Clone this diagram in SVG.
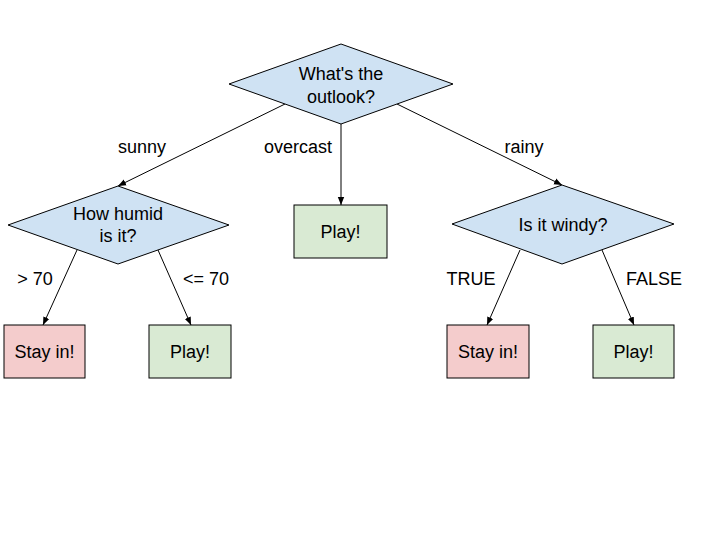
<svg xmlns="http://www.w3.org/2000/svg" width="720" height="540" viewBox="0 0 720 540">
<style>
text{font-family:"Liberation Sans",Arial,sans-serif;font-size:18px;fill:#000;text-anchor:middle}
.d{fill:#cfe2f3;stroke:#000;stroke-width:1}
.r{fill:#f4cccc;stroke:#000;stroke-width:1}
.g{fill:#d9ead3;stroke:#000;stroke-width:1}
.c line{stroke:#000;stroke-width:1;marker-end:url(#ah)}
</style>
<defs>
<marker id="ah" viewBox="0 0 10 10" refX="10" refY="5" markerWidth="8" markerHeight="8" markerUnits="userSpaceOnUse" orient="auto">
<path d="M0,1 L10,5 L0,9 Z" fill="#000"/>
</marker>
</defs>
<rect width="720" height="540" fill="#fff"/>
<g class="c" id="connectors">
<line x1="285" y1="104" x2="118" y2="186"/>
<line x1="341" y1="124" x2="341" y2="205"/>
<line x1="397" y1="104" x2="562" y2="185"/>
<line x1="77" y1="250" x2="43" y2="325"/>
<line x1="158" y1="250" x2="191" y2="325"/>
<line x1="520" y1="250" x2="487" y2="325"/>
<line x1="602" y1="250" x2="634" y2="325"/>
<text x="142" y="153">sunny</text>
<text x="298" y="153">overcast</text>
<text x="524" y="153">rainy</text>
<text x="35" y="285">&gt; 70</text>
<text x="206" y="285">&lt;= 70</text>
<text x="471" y="285">TRUE</text>
<text x="654" y="285">FALSE</text>
</g>
<g id="outlook">
<polygon class="d" points="341,44 453,84 341,124 229,84"/>
<text x="341" y="80">What's the</text>
<text x="341" y="103">outlook?</text>
</g>
<g id="humid">
<polygon class="d" points="118,186 229,225 118,264 8,225"/>
<text x="118" y="220">How humid</text>
<text x="118" y="242">is it?</text>
</g>
<g id="overcast-play">
<rect class="g" x="294" y="205" width="93" height="53"/>
<text x="340.5" y="238">Play!</text>
</g>
<g id="windy">
<polygon class="d" points="562,185 674,224 562,264 452,224"/>
<text x="563" y="231">Is it windy?</text>
</g>
<g id="humid-stay">
<rect class="r" x="4" y="325" width="81" height="53"/>
<text x="44.5" y="358">Stay in!</text>
</g>
<g id="humid-play">
<rect class="g" x="149" y="325" width="82" height="53"/>
<text x="190" y="358">Play!</text>
</g>
<g id="windy-stay">
<rect class="r" x="447" y="325" width="82" height="53"/>
<text x="488" y="358">Stay in!</text>
</g>
<g id="windy-play">
<rect class="g" x="593" y="325" width="81" height="53"/>
<text x="633.5" y="358">Play!</text>
</g>
</svg>
